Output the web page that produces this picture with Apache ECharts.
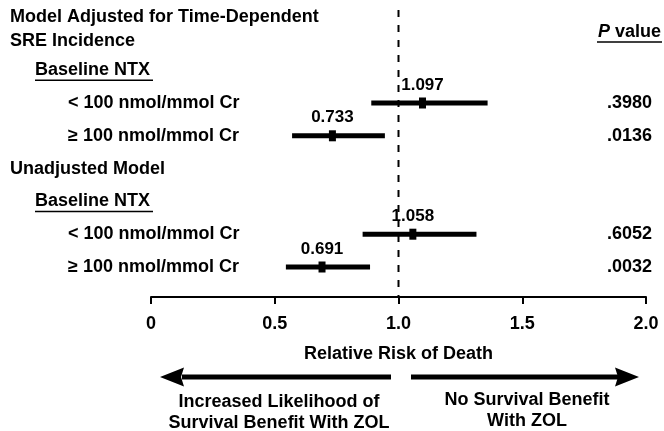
<!DOCTYPE html>
<html>
<head>
<meta charset="utf-8">
<style>
  html, body { margin: 0; padding: 0; background: #fff; }
  #chart { width: 664px; height: 431px; }
</style>
<script src="https://cdn.jsdelivr.net/npm/echarts@6/dist/echarts.min.js"></script>
</head>
<body>
<div id="chart"></div>
<script>
// forest plot: relative risk of death by baseline NTX
var rowLabels = [
  'Model Adjusted for Time-Dependent\nSRE Incidence',
  'Baseline NTX',
  '< 100 nmol/mmol Cr',
  '≥ 100 nmol/mmol Cr',
  'Unadjusted Model',
  'Baseline NTX',
  '< 100 nmol/mmol Cr',
  '≥ 100 nmol/mmol Cr'
];
var rowLevel = [0, 1, 2, 2, 0, 1, 2, 2];
var estimateRows = [2, 3, 6, 7];
var estimates = [1.097, 0.733, 1.058, 0.691];
var lowerCI = [0.89, 0.57, 0.855, 0.545];
var upperCI = [1.36, 0.945, 1.315, 0.885];
var pValues = ['.3980', '.0136', '.6052', '.0032'];
var xTicks = ['0', '0.5', '1.0', '1.5', '2.0'];

(function () {
  var font = '"Liberation Sans", Arial, Helvetica, sans-serif';
  var ink = '#000';

  function txt(extra) {
    var s = { fontFamily: font, fontWeight: 'bold', fontSize: 18, color: ink };
    for (var k in extra) s[k] = extra[k];
    return s;
  }

  // right column: P value header + values on the estimate rows
  var pLabels = rowLabels.map(function () { return ''; });
  pLabels[0] = 'P value';
  estimateRows.forEach(function (r, k) { pLabels[r] = pValues[k]; });

  var chart = echarts.init(document.getElementById('chart'), null, { renderer: 'canvas' });
  chart.setOption({
    animation: false,
    grid: { left: 151, right: 17, top: 21, height: 262.4 },
    xAxis: {
      type: 'value',
      min: 0,
      max: 2,
      interval: 0.5,
      offset: 13.6,
      splitLine: { show: false },
      axisLine: { show: true, lineStyle: { color: ink, width: 2 } },
      axisTick: { show: true, length: 7, lineStyle: { color: ink, width: 2 } },
      axisLabel: txt({
        margin: 18,
        formatter: function (v) { return xTicks[Math.round(v / 0.5)]; }
      }),
      name: 'Relative Risk of Death',
      nameLocation: 'middle',
      nameGap: 48,
      nameTextStyle: txt({})
    },
    yAxis: [{
      type: 'category',
      inverse: true,
      data: rowLabels,
      axisLine: { show: false },
      axisTick: { show: false },
      splitLine: { show: false },
      axisLabel: {
        interval: 0,
        align: 'left',
        margin: 141,
        formatter: function (v, i) {
          // the two-line header is placed separately below
          if (i === 0) return '';
          return '{l' + rowLevel[i] + '|' + v + '}';
        },
        rich: {
          l0: txt({}),
          l1: txt({ padding: [0, 0, 0, 25] }),
          l2: txt({ padding: [0, 0, 0, 58] })
        }
      }
    }, {
      type: 'category',
      inverse: true,
      position: 'right',
      data: pLabels,
      axisLine: { show: false },
      axisTick: { show: false },
      splitLine: { show: false },
      axisLabel: {
        interval: 0,
        align: 'right',
        margin: 15,
        formatter: function (v, i) {
          if (i === 0) return '{pi|P}{pt| value}';
          return v ? '{pv|' + v + '}' : '';
        },
        rich: {
          pi: txt({ fontStyle: 'italic', padding: [0, 0, 11, 0] }),
          pt: txt({ padding: [0, 0, 11, 0] }),
          pv: txt({ padding: [0, 9, 0, 0] })
        }
      }
    }],
    series: [{
      type: 'custom',
      xAxisIndex: 0,
      yAxisIndex: 0,
      clip: false,
      z: 5,
      encode: { x: [1, 2, 3], y: 0 },
      data: estimates.map(function (e, k) {
        return [estimateRows[k], e, lowerCI[k], upperCI[k]];
      }),
      renderItem: function (params, api) {
        var row = api.value(0);
        var est = api.value(1);
        var pEst = api.coord([est, row]);
        var pLo = api.coord([api.value(2), row]);
        var pHi = api.coord([api.value(3), row]);
        return {
          type: 'group',
          children: [
            { type: 'rect', shape: { x: pLo[0], y: pEst[1] - 2.5, width: pHi[0] - pLo[0], height: 5 }, style: { fill: ink } },
            { type: 'rect', shape: { x: pEst[0] - 3.5, y: pEst[1] - 5.5, width: 7, height: 11 }, style: { fill: ink } },
            {
              type: 'text',
              x: pEst[0],
              y: pEst[1] - 18,
              style: {
                text: est.toFixed(3),
                fontFamily: font, fontWeight: 'bold', fontSize: 17, fill: ink,
                align: 'center', verticalAlign: 'middle'
              }
            }
          ]
        };
      }
    }]
  });

  // reference line at RR = 1, header, underlines, direction arrows
  var x1 = chart.convertToPixel({ xAxisIndex: 0 }, 1);
  var yBase1 = chart.convertToPixel({ yAxisIndex: 0 }, 1);
  var yBase2 = chart.convertToPixel({ yAxisIndex: 0 }, 5);
  var axisY = 297;
  var arrowY = 377;

  chart.setOption({
    graphic: [
      { type: 'line', z: 1, shape: { x1: x1, y1: 10, x2: x1, y2: axisY }, style: { stroke: ink, lineWidth: 2, lineDash: [7, 8] } },
      {
        type: 'text', x: 10, y: 29,
        style: {
          text: rowLabels[0],
          fontFamily: font, fontWeight: 'bold', fontSize: 18, lineHeight: 24, fill: ink,
          align: 'left', verticalAlign: 'middle'
        }
      },
      { type: 'line', shape: { x1: 35, y1: yBase1 + 10, x2: 153, y2: yBase1 + 10 }, style: { stroke: ink, lineWidth: 1.5 } },
      { type: 'line', shape: { x1: 35, y1: yBase2 + 10, x2: 153, y2: yBase2 + 10 }, style: { stroke: ink, lineWidth: 1.5 } },
      { type: 'line', shape: { x1: 597, y1: 42, x2: 662, y2: 42 }, style: { stroke: ink, lineWidth: 1.5 } },
      { type: 'rect', shape: { x: 182, y: arrowY - 2.5, width: 209, height: 5 }, style: { fill: ink } },
      { type: 'polygon', shape: { points: [[160, arrowY], [184, arrowY - 9.5], [181, arrowY], [184, arrowY + 9.5]] }, style: { fill: ink } },
      { type: 'rect', shape: { x: 411, y: arrowY - 2.5, width: 207, height: 5 }, style: { fill: ink } },
      { type: 'polygon', shape: { points: [[639, arrowY], [615, arrowY - 9.5], [618, arrowY], [615, arrowY + 9.5]] }, style: { fill: ink } },
      {
        type: 'text', x: 279, y: 412.5,
        style: {
          text: 'Increased Likelihood of\nSurvival Benefit With ZOL',
          fontFamily: font, fontWeight: 'bold', fontSize: 18, lineHeight: 21, fill: ink,
          align: 'center', verticalAlign: 'middle'
        }
      },
      {
        type: 'text', x: 527, y: 411,
        style: {
          text: 'No Survival Benefit\nWith ZOL',
          fontFamily: font, fontWeight: 'bold', fontSize: 18, lineHeight: 21, fill: ink,
          align: 'center', verticalAlign: 'middle'
        }
      }
    ]
  });

  window.addEventListener('resize', function () { chart.resize(); });
})();
</script>
</body>
</html>
